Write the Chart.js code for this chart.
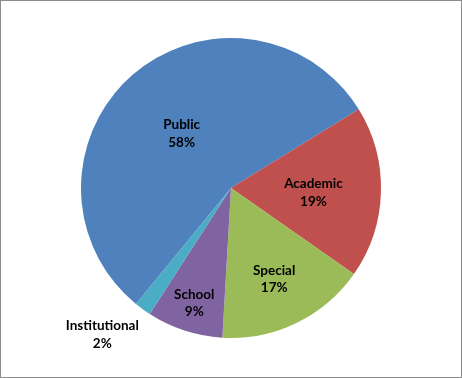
<!DOCTYPE html>
<html>
<head>
<meta charset="utf-8">
<script src="https://cdn.jsdelivr.net/npm/chart.js@4"></script>
<style>
html,body{margin:0;padding:0;background:#fff;}
#wrap{width:462px;height:378px;position:relative;}
canvas{display:block;}
</style>
</head>
<body>
<div id="wrap"><canvas id="c" width="462" height="378"></canvas></div>
<script>
const categories = ["Public", "Academic", "Special", "School", "Institutional"];
const values = [55.3, 18.5, 16.2, 8.2, 1.8];
const percentLabels = ["58%", "19%", "17%", "9%", "2%"];
const colors = ["#4F81BD", "#C0504D", "#9BBB59", "#8064A2", "#4BACC6"];

// label placement (fraction of radius along slice mid-angle; optional angle override in degrees)
const labelPlacement = [
  {r: 0.50}, {r: 0.55}, {r: 0.66}, {r: 0.79}, {r: 1.29, angle: 221.7}
];

const bgBorder = {
  id: 'bgBorder',
  beforeDraw(chart) {
    const ctx = chart.ctx;
    ctx.save();
    ctx.fillStyle = '#fff';
    ctx.fillRect(0, 0, chart.width, chart.height);
    ctx.restore();
  },
  afterDraw(chart) {
    const ctx = chart.ctx;
    ctx.save();
    ctx.strokeStyle = '#8c8c8c';
    ctx.lineWidth = 1;
    ctx.strokeRect(0.5, 0.5, chart.width - 1, chart.height - 1);
    ctx.restore();
  }
};

const sliceLabels = {
  id: 'sliceLabels',
  afterDatasetsDraw(chart) {
    const ctx = chart.ctx;
    const meta = chart.getDatasetMeta(0);
    ctx.save();
    ctx.font = 'bold 13.5px Lato, "Liberation Sans", Arial, sans-serif';
    ctx.fillStyle = '#000';
    ctx.textAlign = 'center';
    ctx.textBaseline = 'middle';
    meta.data.forEach((arc, i) => {
      const p = arc.getProps(['x', 'y', 'startAngle', 'endAngle', 'outerRadius'], true);
      const place = labelPlacement[i];
      let ang = (p.startAngle + p.endAngle) / 2;
      if (place.angle !== undefined) ang = (place.angle - 90) * Math.PI / 180;
      const rr = p.outerRadius * place.r;
      const cx = p.x + Math.cos(ang) * rr;
      const cy = p.y + Math.sin(ang) * rr + 2;
      ctx.fillText(categories[i], cx, cy - 8.5);
      ctx.fillText(percentLabels[i], cx, cy + 9);
    });
    ctx.restore();
  }
};

new Chart(document.getElementById('c'), {
  type: 'pie',
  data: {
    labels: categories,
    datasets: [{
      data: values,
      backgroundColor: colors,
      borderWidth: 0
    }]
  },
  options: {
    responsive: false,
    animation: false,
    rotation: 219.3,
    layout: { padding: { top: 38, bottom: 40, left: 81, right: 81 } },
    plugins: {
      legend: { display: false },
      tooltip: { enabled: false }
    }
  },
  plugins: [bgBorder, sliceLabels]
});
</script>
</body>
</html>
